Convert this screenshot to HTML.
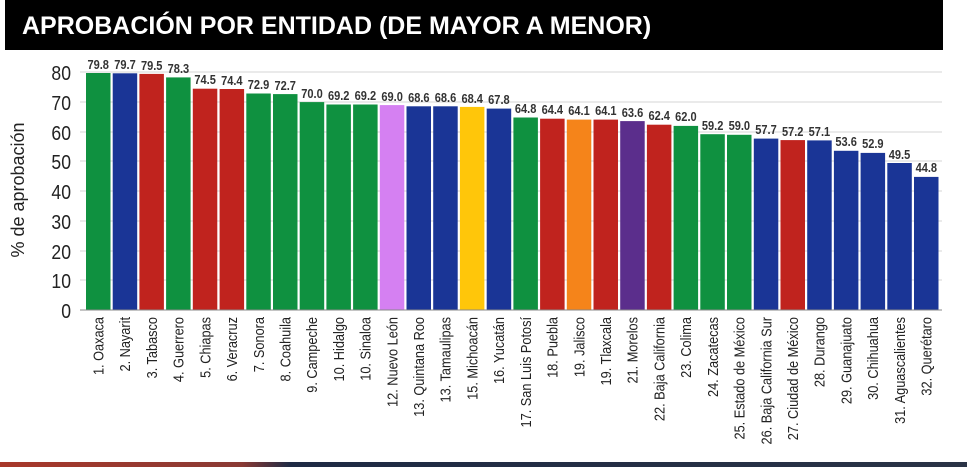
<!DOCTYPE html>
<html><head><meta charset="utf-8"><style>
html,body{margin:0;padding:0;background:#fff;width:967px;height:467px;overflow:hidden}
svg{display:block}
.v{font-family:"Liberation Sans",sans-serif;font-size:13px;font-weight:bold;fill:#333;text-anchor:middle}
.c{font-family:"Liberation Sans",sans-serif;font-size:15px;fill:#222;text-anchor:end}
.t{font-family:"Liberation Sans",sans-serif;font-size:20px;fill:#222;text-anchor:end}
</style></head><body>
<svg width="967" height="467" viewBox="0 0 967 467" xmlns="http://www.w3.org/2000/svg">
<defs><linearGradient id="bg" x1="0" x2="1"><stop offset="0" stop-color="#a8382a"/><stop offset="0.25" stop-color="#8a3a34"/><stop offset="0.3" stop-color="#1e2a44"/><stop offset="1" stop-color="#2a3346"/></linearGradient></defs>
<rect x="5" y="0" width="938" height="50" fill="#000"/>
<text x="22" y="34" font-family="Liberation Sans, sans-serif" font-weight="bold" font-size="25" fill="#fff">APROBACIÓN POR ENTIDAD (DE MAYOR A MENOR)</text>
<g stroke="#d6d6d6" stroke-width="1">
<line x1="80" x2="942" y1="72" y2="72"/><line x1="80" x2="942" y1="102" y2="102"/><line x1="80" x2="942" y1="132" y2="132"/><line x1="80" x2="942" y1="161" y2="161"/><line x1="80" x2="942" y1="191" y2="191"/><line x1="80" x2="942" y1="221" y2="221"/><line x1="80" x2="942" y1="251" y2="251"/><line x1="80" x2="942" y1="280" y2="280"/>
</g>
<g transform="scale(0.88,1)">
<text class="t" x="80.7" y="80">80</text><text class="t" x="80.7" y="110">70</text><text class="t" x="80.7" y="140">60</text><text class="t" x="80.7" y="169">50</text><text class="t" x="80.7" y="199">40</text><text class="t" x="80.7" y="229">30</text><text class="t" x="80.7" y="259">20</text><text class="t" x="80.7" y="288">10</text><text class="t" x="80.7" y="318">0</text>
</g>
<text transform="translate(24,190) rotate(-90)" text-anchor="middle" font-family="Liberation Sans, sans-serif" font-size="18" fill="#222">% de aprobación</text>
<g>
<rect x="86" y="73.0" width="24.5" height="237.0" fill="#0f9140"/>
<rect x="112.7" y="73.3" width="24.5" height="236.7" fill="#1a3596"/>
<rect x="139.4" y="73.9" width="24.5" height="236.1" fill="#c0231e"/>
<rect x="166.1" y="77.4" width="24.5" height="232.6" fill="#0f9140"/>
<rect x="192.8" y="88.7" width="24.5" height="221.3" fill="#c0231e"/>
<rect x="219.6" y="89.0" width="24.5" height="221.0" fill="#c0231e"/>
<rect x="246.3" y="93.5" width="24.5" height="216.5" fill="#0f9140"/>
<rect x="273.0" y="94.1" width="24.5" height="215.9" fill="#0f9140"/>
<rect x="299.7" y="102.1" width="24.5" height="207.9" fill="#0f9140"/>
<rect x="326.4" y="104.5" width="24.5" height="205.5" fill="#0f9140"/>
<rect x="353.1" y="104.5" width="24.5" height="205.5" fill="#0f9140"/>
<rect x="379.8" y="105.1" width="24.5" height="204.9" fill="#d580f2"/>
<rect x="406.5" y="106.3" width="24.5" height="203.7" fill="#1a3596"/>
<rect x="433.2" y="106.3" width="24.5" height="203.7" fill="#1a3596"/>
<rect x="459.9" y="106.9" width="24.5" height="203.1" fill="#ffc60a"/>
<rect x="486.7" y="108.6" width="24.5" height="201.4" fill="#1a3596"/>
<rect x="513.4" y="117.5" width="24.5" height="192.5" fill="#0f9140"/>
<rect x="540.1" y="118.7" width="24.5" height="191.3" fill="#c0231e"/>
<rect x="566.8" y="119.6" width="24.5" height="190.4" fill="#f5841a"/>
<rect x="593.5" y="119.6" width="24.5" height="190.4" fill="#c0231e"/>
<rect x="620.2" y="121.1" width="24.5" height="188.9" fill="#5b2e8c"/>
<rect x="646.9" y="124.7" width="24.5" height="185.3" fill="#c0231e"/>
<rect x="673.6" y="125.9" width="24.5" height="184.1" fill="#0f9140"/>
<rect x="700.3" y="134.2" width="24.5" height="175.8" fill="#0f9140"/>
<rect x="727.0" y="134.8" width="24.5" height="175.2" fill="#0f9140"/>
<rect x="753.8" y="138.6" width="24.5" height="171.4" fill="#1a3596"/>
<rect x="780.5" y="140.1" width="24.5" height="169.9" fill="#c0231e"/>
<rect x="807.2" y="140.4" width="24.5" height="169.6" fill="#1a3596"/>
<rect x="833.9" y="150.8" width="24.5" height="159.2" fill="#1a3596"/>
<rect x="860.6" y="152.9" width="24.5" height="157.1" fill="#1a3596"/>
<rect x="887.3" y="163.0" width="24.5" height="147.0" fill="#1a3596"/>
<rect x="914.0" y="176.9" width="24.5" height="133.1" fill="#1a3596"/>
</g>
<line x1="80" x2="942" y1="310" y2="310" stroke="#888" stroke-width="1"/>
<g>
<text class="v" transform="translate(98.2,69) scale(0.85,1)">79.8</text>
<text class="v" transform="translate(125.0,69) scale(0.85,1)">79.7</text>
<text class="v" transform="translate(151.7,70) scale(0.85,1)">79.5</text>
<text class="v" transform="translate(178.4,73) scale(0.85,1)">78.3</text>
<text class="v" transform="translate(205.1,84) scale(0.85,1)">74.5</text>
<text class="v" transform="translate(231.8,85) scale(0.85,1)">74.4</text>
<text class="v" transform="translate(258.5,89) scale(0.85,1)">72.9</text>
<text class="v" transform="translate(285.2,90) scale(0.85,1)">72.7</text>
<text class="v" transform="translate(312.0,98) scale(0.85,1)">70.0</text>
<text class="v" transform="translate(338.7,100) scale(0.85,1)">69.2</text>
<text class="v" transform="translate(365.4,100) scale(0.85,1)">69.2</text>
<text class="v" transform="translate(392.1,101) scale(0.85,1)">69.0</text>
<text class="v" transform="translate(418.8,102) scale(0.85,1)">68.6</text>
<text class="v" transform="translate(445.5,102) scale(0.85,1)">68.6</text>
<text class="v" transform="translate(472.2,103) scale(0.85,1)">68.4</text>
<text class="v" transform="translate(498.9,104) scale(0.85,1)">67.8</text>
<text class="v" transform="translate(525.6,113) scale(0.85,1)">64.8</text>
<text class="v" transform="translate(552.3,114) scale(0.85,1)">64.4</text>
<text class="v" transform="translate(579.0,115) scale(0.85,1)">64.1</text>
<text class="v" transform="translate(605.8,115) scale(0.85,1)">64.1</text>
<text class="v" transform="translate(632.5,117) scale(0.85,1)">63.6</text>
<text class="v" transform="translate(659.2,120) scale(0.85,1)">62.4</text>
<text class="v" transform="translate(685.9,121) scale(0.85,1)">62.0</text>
<text class="v" transform="translate(712.6,130) scale(0.85,1)">59.2</text>
<text class="v" transform="translate(739.3,130) scale(0.85,1)">59.0</text>
<text class="v" transform="translate(766.0,134) scale(0.85,1)">57.7</text>
<text class="v" transform="translate(792.7,136) scale(0.85,1)">57.2</text>
<text class="v" transform="translate(819.4,136) scale(0.85,1)">57.1</text>
<text class="v" transform="translate(846.1,146) scale(0.85,1)">53.6</text>
<text class="v" transform="translate(872.8,148) scale(0.85,1)">52.9</text>
<text class="v" transform="translate(899.5,159) scale(0.85,1)">49.5</text>
<text class="v" transform="translate(926.3,172) scale(0.85,1)">44.8</text>
</g>
<g>
<text class="c" transform="translate(103.5,317) rotate(-90) scale(0.85,1)">1. Oaxaca</text>
<text class="c" transform="translate(130.2,317) rotate(-90) scale(0.85,1)">2. Nayarit</text>
<text class="c" transform="translate(156.9,317) rotate(-90) scale(0.85,1)">3. Tabasco</text>
<text class="c" transform="translate(183.6,317) rotate(-90) scale(0.85,1)">4. Guerrero</text>
<text class="c" transform="translate(210.3,317) rotate(-90) scale(0.85,1)">5. Chiapas</text>
<text class="c" transform="translate(237.1,317) rotate(-90) scale(0.85,1)">6. Veracruz</text>
<text class="c" transform="translate(263.8,317) rotate(-90) scale(0.85,1)">7. Sonora</text>
<text class="c" transform="translate(290.5,317) rotate(-90) scale(0.85,1)">8. Coahuila</text>
<text class="c" transform="translate(317.2,317) rotate(-90) scale(0.85,1)">9. Campeche</text>
<text class="c" transform="translate(343.9,317) rotate(-90) scale(0.85,1)">10. Hidalgo</text>
<text class="c" transform="translate(370.6,317) rotate(-90) scale(0.85,1)">10. Sinaloa</text>
<text class="c" transform="translate(397.3,317) rotate(-90) scale(0.85,1)">12. Nuevo León</text>
<text class="c" transform="translate(424.0,317) rotate(-90) scale(0.85,1)">13. Quintana Roo</text>
<text class="c" transform="translate(450.7,317) rotate(-90) scale(0.85,1)">13. Tamaulipas</text>
<text class="c" transform="translate(477.4,317) rotate(-90) scale(0.85,1)">15. Michoacán</text>
<text class="c" transform="translate(504.2,317) rotate(-90) scale(0.85,1)">16. Yucatán</text>
<text class="c" transform="translate(530.9,317) rotate(-90) scale(0.85,1)">17. San Luis Potosí</text>
<text class="c" transform="translate(557.6,317) rotate(-90) scale(0.85,1)">18. Puebla</text>
<text class="c" transform="translate(584.3,317) rotate(-90) scale(0.85,1)">19. Jalisco</text>
<text class="c" transform="translate(611.0,317) rotate(-90) scale(0.85,1)">19. Tlaxcala</text>
<text class="c" transform="translate(637.7,317) rotate(-90) scale(0.85,1)">21. Morelos</text>
<text class="c" transform="translate(664.4,317) rotate(-90) scale(0.85,1)">22. Baja California</text>
<text class="c" transform="translate(691.1,317) rotate(-90) scale(0.85,1)">23. Colima</text>
<text class="c" transform="translate(717.8,317) rotate(-90) scale(0.85,1)">24. Zacatecas</text>
<text class="c" transform="translate(744.5,317) rotate(-90) scale(0.85,1)">25. Estado de México</text>
<text class="c" transform="translate(771.3,317) rotate(-90) scale(0.85,1)">26. Baja California Sur</text>
<text class="c" transform="translate(798.0,317) rotate(-90) scale(0.85,1)">27. Ciudad de México</text>
<text class="c" transform="translate(824.7,317) rotate(-90) scale(0.85,1)">28. Durango</text>
<text class="c" transform="translate(851.4,317) rotate(-90) scale(0.85,1)">29. Guanajuato</text>
<text class="c" transform="translate(878.1,317) rotate(-90) scale(0.85,1)">30. Chihuahua</text>
<text class="c" transform="translate(904.8,317) rotate(-90) scale(0.85,1)">31. Aguascalientes</text>
<text class="c" transform="translate(931.5,317) rotate(-90) scale(0.85,1)">32. Querétaro</text>
</g>
<rect x="0" y="462" width="967" height="5" fill="url(#bg)"/>
</svg>
</body></html>
